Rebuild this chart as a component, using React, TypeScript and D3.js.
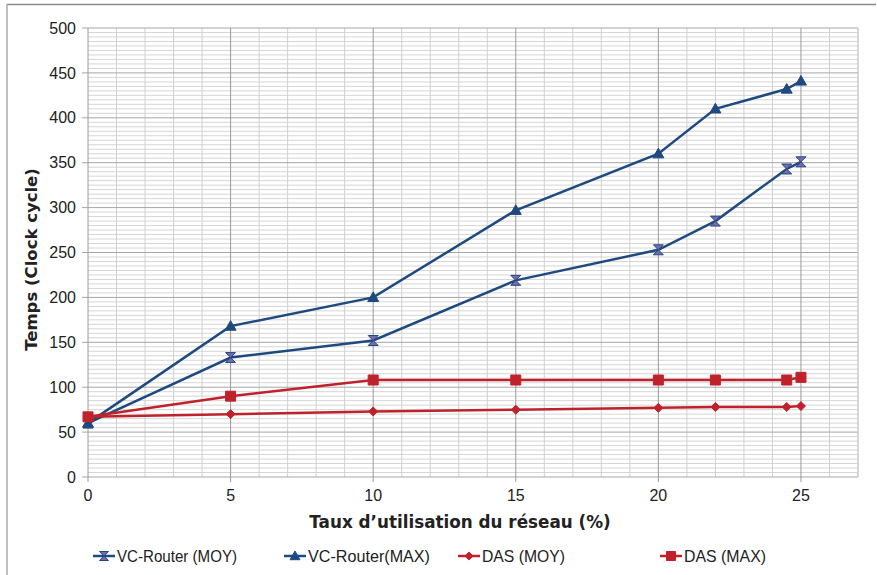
import React from "react";
import * as d3 from "d3";

const xValues = [0, 5, 10, 15, 20, 22, 24.5, 25];
const vcMoy = [60, 133, 152, 219, 253, 285, 343, 351];
const vcMax = [60, 168, 200, 297, 360, 410, 432, 441];
const dasMoy = [67, 70, 73, 75, 77, 78, 78, 79];
const dasMax = [67, 90, 108, 108, 108, 108, 108, 111];
const xTicks = [0, 5, 10, 15, 20, 25];
const yTicks = [0, 50, 100, 150, 200, 250, 300, 350, 400, 450, 500];
const legendLabels = ["VC-Router (MOY)", "VC-Router(MAX)", "DAS (MOY)", "DAS (MAX)"];

const BLUE = "#1f4a80";
const PURPLE = "#7a68ae";
const RED = "#c0222b";

type Marker = "hourglass" | "triangle" | "diamond" | "square";

const markerPath = (m: Marker, s: number) => {
  if (m === "triangle") return `M0,${-s}L${s},${s * 0.75}L${-s},${s * 0.75}Z`;
  if (m === "diamond") return `M0,${-s}L${s},0L0,${s}L${-s},0Z`;
  if (m === "square") return `M${-s},${-s}H${s}V${s}H${-s}Z`;
  return `M${-s},${-s}H${s}L${-s},${s}H${s}Z`;
};

const series = [
  { name: legendLabels[0], values: vcMoy, line: BLUE, fill: PURPLE, marker: "hourglass" as Marker, size: 5 },
  { name: legendLabels[1], values: vcMax, line: BLUE, fill: BLUE, marker: "triangle" as Marker, size: 5.5 },
  { name: legendLabels[2], values: dasMoy, line: RED, fill: RED, marker: "diamond" as Marker, size: 4.5 },
  { name: legendLabels[3], values: dasMax, line: RED, fill: RED, marker: "square" as Marker, size: 5 },
];

const W = 877;
const H = 575;
const left = 88;
const right = 858;
const top = 28;
const bottom = 477;

export default function App() {
  const x = d3.scaleLinear().domain([0, 27]).range([left, right]);
  const y = d3.scaleLinear().domain([0, 500]).range([bottom, top]);
  const line = d3
    .line<number>()
    .x((_, i) => x(xValues[i]))
    .y((d) => y(d));

  const minorX = d3.range(1, 28).filter((v) => v % 5 !== 0);
  const minorY = d3.range(0, 501, 5).filter((v) => v % 50 !== 0);

  // legend layout: marker start x, text width
  const legendX = [93, 284, 458, 660];
  const legendW = [120, 122, 83, 82];

  return (
    <svg width={W} height={H} style={{ position: "absolute", left: 0, top: 0, background: "#fff" }}>
      {/* frame */}
      <line x1={7} x2={876} y1={4.5} y2={4.5} stroke="#8a8a8a" strokeWidth={1.5} />
      <line x1={7} x2={7} y1={4} y2={H} stroke="#aaa" strokeWidth={1.5} />

      {/* minor grid */}
      {minorY.map((v) => (
        <line key={"my" + v} x1={left} x2={right} y1={y(v)} y2={y(v)} stroke="#d6d6d6" strokeWidth={1} />
      ))}
      {minorX.map((v) => (
        <line key={"mx" + v} x1={x(v)} x2={x(v)} y1={top} y2={bottom} stroke="#d0d0d0" strokeWidth={1} />
      ))}
      {/* major grid */}
      {yTicks.map((v) => (
        <line key={"gy" + v} x1={left - 6} x2={right} y1={y(v)} y2={y(v)} stroke="#a6a6a6" strokeWidth={1} />
      ))}
      {xTicks.map((v) => (
        <line key={"gx" + v} x1={x(v)} x2={x(v)} y1={top} y2={bottom + 5} stroke="#9a9a9a" strokeWidth={1} />
      ))}
      <line x1={right} x2={right} y1={top} y2={bottom} stroke="#c8c8c8" strokeWidth={1} />

      {/* tick labels */}
      {yTicks.map((v) => (
        <text key={"ty" + v} x={left - 12} y={y(v)} dy="0.35em" textAnchor="end" fontFamily="Liberation Sans, Arial, sans-serif" fontSize={16} fill="#222">
          {v}
        </text>
      ))}
      {xTicks.map((v) => (
        <text key={"tx" + v} x={x(v)} y={bottom + 24} textAnchor="middle" fontFamily="Liberation Sans, Arial, sans-serif" fontSize={16} fill="#222">
          {v}
        </text>
      ))}

      {/* axis titles */}
      <text x={460} y={528} textAnchor="middle" fontFamily="DejaVu Sans, sans-serif" fontWeight="bold" fontSize={16.8} fill="#222">
        Taux d’utilisation du réseau (%)
      </text>
      <text transform={`translate(37,${(top + bottom) / 2 + 7}) rotate(-90)`} textAnchor="middle" fontFamily="DejaVu Sans, sans-serif" fontWeight="bold" fontSize={16.5} fill="#222">
        Temps (Clock cycle)
      </text>

      {/* series */}
      {series.map((s) => (
        <g key={s.name}>
          <path d={line(s.values) || ""} fill="none" stroke={s.line} strokeWidth={2.5} />
          {s.values.map((v, i) => (
            <path
              key={i}
              d={markerPath(s.marker, s.size)}
              transform={`translate(${x(xValues[i])},${y(v)})`}
              fill={s.fill}
              stroke={s.marker === "hourglass" ? BLUE : s.fill}
              strokeWidth={1}
            />
          ))}
        </g>
      ))}

      {/* legend */}
      {series.map((s, i) => (
        <g key={"lg" + i} transform={`translate(${legendX[i]},556)`}>
          <line x1={0} x2={22} y1={0} y2={0} stroke={s.line} strokeWidth={2.5} />
          <path d={markerPath(s.marker, s.size * 0.9)} transform="translate(11,0)" fill={s.fill} stroke={s.marker === "hourglass" ? BLUE : s.fill} strokeWidth={1} />
          <text
            x={24}
            y={0}
            dy="0.36em"
            textLength={legendW[i]}
            lengthAdjust="spacingAndGlyphs"
            fontFamily="Liberation Sans, Arial, sans-serif"
            fontSize={17}
            fill="#222"
          >
            {s.name}
          </text>
        </g>
      ))}
    </svg>
  );
}
